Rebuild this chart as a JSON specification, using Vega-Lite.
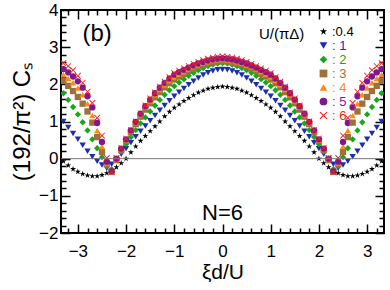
{
  "$schema": "https://vega.github.io/schema/vega-lite/v6.json",
  "width": 323,
  "height": 223,
  "autosize": "none",
  "padding": {"left": 61, "top": 10, "right": 6, "bottom": 57},
  "config": {
    "view": {"stroke": "black", "strokeWidth": 2},
    "font": "Liberation Sans",
    "axis": {"grid": false, "domain": false, "tickColor": "black", "tickWidth": 1.5, "labelColor": "black", "labelFont": "Liberation Sans", "titleFont": "Liberation Sans", "titleFontWeight": "normal", "titleColor": "black"}
  },
  "resolve": {"axis": {"x": "independent", "y": "independent"}},
  "layer": [
    {
      "data": {
        "values": [
          {"x": -3.4, "s04": 0.04, "s1": 1.17, "s2": 1.93, "s3": 2.20, "s4": 2.34, "s5": 2.48, "s6": 2.64},
          {"x": -3.3, "s04": -0.07, "s1": 1.00, "s2": 1.76, "s3": 2.09, "s4": 2.26, "s5": 2.41, "s6": 2.57},
          {"x": -3.2, "s04": -0.18, "s1": 0.84, "s2": 1.58, "s3": 1.96, "s4": 2.16, "s5": 2.32, "s6": 2.49},
          {"x": -3.1, "s04": -0.28, "s1": 0.68, "s2": 1.39, "s3": 1.82, "s4": 2.04, "s5": 2.21, "s6": 2.38},
          {"x": -3.0, "s04": -0.35, "s1": 0.52, "s2": 1.19, "s3": 1.66, "s4": 1.90, "s5": 2.08, "s6": 2.23},
          {"x": -2.9, "s04": -0.41, "s1": 0.36, "s2": 0.98, "s3": 1.48, "s4": 1.72, "s5": 1.91, "s6": 2.04},
          {"x": -2.8, "s04": -0.45, "s1": 0.20, "s2": 0.76, "s3": 1.27, "s4": 1.48, "s5": 1.68, "s6": 1.80},
          {"x": -2.7, "s04": -0.47, "s1": 0.05, "s2": 0.52, "s3": 0.97, "s4": 1.16, "s5": 1.38, "s6": 1.50},
          {"x": -2.6, "s04": -0.47, "s1": -0.07, "s2": 0.28, "s3": 0.58, "s4": 0.76, "s5": 0.96, "s6": 1.10},
          {"x": -2.5, "s04": -0.44, "s1": -0.17, "s2": 0.04, "s3": 0.18, "s4": 0.33, "s5": 0.45, "s6": 0.62},
          {"x": -2.4, "s04": -0.39, "s1": -0.26, "s2": -0.20, "s3": -0.15, "s4": -0.12, "s5": -0.08, "s6": 0.02},
          {"x": -2.3, "s04": -0.32, "s1": -0.15, "s2": -0.28, "s3": -0.35, "s4": -0.35, "s5": -0.34, "s6": -0.36},
          {"x": -2.2, "s04": -0.23, "s1": -0.02, "s2": -0.02, "s3": -0.04, "s4": -0.02, "s5": 0.00, "s6": 0.02},
          {"x": -2.1, "s04": -0.12, "s1": 0.12, "s2": 0.19, "s3": 0.23, "s4": 0.25, "s5": 0.27, "s6": 0.29},
          {"x": -2.0, "s04": 0.00, "s1": 0.27, "s2": 0.39, "s3": 0.48, "s4": 0.50, "s5": 0.52, "s6": 0.54},
          {"x": -1.9, "s04": 0.17, "s1": 0.43, "s2": 0.58, "s3": 0.71, "s4": 0.74, "s5": 0.76, "s6": 0.77},
          {"x": -1.8, "s04": 0.33, "s1": 0.59, "s2": 0.77, "s3": 0.93, "s4": 0.97, "s5": 0.99, "s6": 1.00},
          {"x": -1.7, "s04": 0.48, "s1": 0.74, "s2": 0.95, "s3": 1.13, "s4": 1.18, "s5": 1.21, "s6": 1.22},
          {"x": -1.6, "s04": 0.61, "s1": 0.88, "s2": 1.11, "s3": 1.32, "s4": 1.38, "s5": 1.41, "s6": 1.43},
          {"x": -1.5, "s04": 0.74, "s1": 1.02, "s2": 1.27, "s3": 1.49, "s4": 1.56, "s5": 1.59, "s6": 1.62},
          {"x": -1.4, "s04": 0.87, "s1": 1.16, "s2": 1.43, "s3": 1.65, "s4": 1.72, "s5": 1.76, "s6": 1.78},
          {"x": -1.3, "s04": 1.00, "s1": 1.30, "s2": 1.58, "s3": 1.79, "s4": 1.86, "s5": 1.91, "s6": 1.94},
          {"x": -1.2, "s04": 1.14, "s1": 1.43, "s2": 1.72, "s3": 1.92, "s4": 1.99, "s5": 2.04, "s6": 2.07},
          {"x": -1.1, "s04": 1.26, "s1": 1.56, "s2": 1.84, "s3": 2.03, "s4": 2.10, "s5": 2.16, "s6": 2.19},
          {"x": -1.0, "s04": 1.37, "s1": 1.68, "s2": 1.95, "s3": 2.13, "s4": 2.20, "s5": 2.26, "s6": 2.30},
          {"x": -0.9, "s04": 1.46, "s1": 1.79, "s2": 2.05, "s3": 2.21, "s4": 2.27, "s5": 2.33, "s6": 2.37},
          {"x": -0.8, "s04": 1.55, "s1": 1.89, "s2": 2.14, "s3": 2.28, "s4": 2.34, "s5": 2.39, "s6": 2.43},
          {"x": -0.7, "s04": 1.63, "s1": 1.99, "s2": 2.23, "s3": 2.36, "s4": 2.41, "s5": 2.45, "s6": 2.49},
          {"x": -0.6, "s04": 1.71, "s1": 2.08, "s2": 2.31, "s3": 2.42, "s4": 2.47, "s5": 2.51, "s6": 2.55},
          {"x": -0.5, "s04": 1.78, "s1": 2.17, "s2": 2.38, "s3": 2.48, "s4": 2.52, "s5": 2.56, "s6": 2.60},
          {"x": -0.4, "s04": 1.83, "s1": 2.25, "s2": 2.44, "s3": 2.53, "s4": 2.57, "s5": 2.60, "s6": 2.65},
          {"x": -0.3, "s04": 1.88, "s1": 2.31, "s2": 2.49, "s3": 2.57, "s4": 2.61, "s5": 2.64, "s6": 2.69},
          {"x": -0.2, "s04": 1.91, "s1": 2.36, "s2": 2.53, "s3": 2.60, "s4": 2.64, "s5": 2.67, "s6": 2.72},
          {"x": -0.1, "s04": 1.93, "s1": 2.39, "s2": 2.56, "s3": 2.62, "s4": 2.66, "s5": 2.69, "s6": 2.74},
          {"x": 0.0, "s04": 1.94, "s1": 2.40, "s2": 2.57, "s3": 2.63, "s4": 2.67, "s5": 2.70, "s6": 2.75},
          {"x": 0.1, "s04": 1.93, "s1": 2.39, "s2": 2.56, "s3": 2.62, "s4": 2.66, "s5": 2.69, "s6": 2.74},
          {"x": 0.2, "s04": 1.91, "s1": 2.36, "s2": 2.53, "s3": 2.60, "s4": 2.64, "s5": 2.67, "s6": 2.72},
          {"x": 0.3, "s04": 1.88, "s1": 2.31, "s2": 2.49, "s3": 2.57, "s4": 2.61, "s5": 2.64, "s6": 2.69},
          {"x": 0.4, "s04": 1.83, "s1": 2.25, "s2": 2.44, "s3": 2.53, "s4": 2.57, "s5": 2.60, "s6": 2.65},
          {"x": 0.5, "s04": 1.78, "s1": 2.17, "s2": 2.38, "s3": 2.48, "s4": 2.52, "s5": 2.56, "s6": 2.60},
          {"x": 0.6, "s04": 1.71, "s1": 2.08, "s2": 2.31, "s3": 2.42, "s4": 2.47, "s5": 2.51, "s6": 2.55},
          {"x": 0.7, "s04": 1.63, "s1": 1.99, "s2": 2.23, "s3": 2.36, "s4": 2.41, "s5": 2.45, "s6": 2.49},
          {"x": 0.8, "s04": 1.55, "s1": 1.89, "s2": 2.14, "s3": 2.28, "s4": 2.34, "s5": 2.39, "s6": 2.43},
          {"x": 0.9, "s04": 1.46, "s1": 1.79, "s2": 2.05, "s3": 2.21, "s4": 2.27, "s5": 2.33, "s6": 2.37},
          {"x": 1.0, "s04": 1.37, "s1": 1.68, "s2": 1.95, "s3": 2.13, "s4": 2.20, "s5": 2.26, "s6": 2.30},
          {"x": 1.1, "s04": 1.26, "s1": 1.56, "s2": 1.84, "s3": 2.03, "s4": 2.10, "s5": 2.16, "s6": 2.19},
          {"x": 1.2, "s04": 1.14, "s1": 1.43, "s2": 1.72, "s3": 1.92, "s4": 1.99, "s5": 2.04, "s6": 2.07},
          {"x": 1.3, "s04": 1.00, "s1": 1.30, "s2": 1.58, "s3": 1.79, "s4": 1.86, "s5": 1.91, "s6": 1.94},
          {"x": 1.4, "s04": 0.87, "s1": 1.16, "s2": 1.43, "s3": 1.65, "s4": 1.72, "s5": 1.76, "s6": 1.78},
          {"x": 1.5, "s04": 0.74, "s1": 1.02, "s2": 1.27, "s3": 1.49, "s4": 1.56, "s5": 1.59, "s6": 1.62},
          {"x": 1.6, "s04": 0.61, "s1": 0.88, "s2": 1.11, "s3": 1.32, "s4": 1.38, "s5": 1.41, "s6": 1.43},
          {"x": 1.7, "s04": 0.48, "s1": 0.74, "s2": 0.95, "s3": 1.13, "s4": 1.18, "s5": 1.21, "s6": 1.22},
          {"x": 1.8, "s04": 0.33, "s1": 0.59, "s2": 0.77, "s3": 0.93, "s4": 0.97, "s5": 0.99, "s6": 1.00},
          {"x": 1.9, "s04": 0.17, "s1": 0.43, "s2": 0.58, "s3": 0.71, "s4": 0.74, "s5": 0.76, "s6": 0.77},
          {"x": 2.0, "s04": 0.00, "s1": 0.27, "s2": 0.39, "s3": 0.48, "s4": 0.50, "s5": 0.52, "s6": 0.54},
          {"x": 2.1, "s04": -0.12, "s1": 0.12, "s2": 0.19, "s3": 0.23, "s4": 0.25, "s5": 0.27, "s6": 0.29},
          {"x": 2.2, "s04": -0.23, "s1": -0.02, "s2": -0.02, "s3": -0.04, "s4": -0.02, "s5": 0.00, "s6": 0.02},
          {"x": 2.3, "s04": -0.32, "s1": -0.15, "s2": -0.28, "s3": -0.35, "s4": -0.35, "s5": -0.34, "s6": -0.36},
          {"x": 2.4, "s04": -0.39, "s1": -0.26, "s2": -0.20, "s3": -0.15, "s4": -0.12, "s5": -0.08, "s6": 0.02},
          {"x": 2.5, "s04": -0.44, "s1": -0.17, "s2": 0.04, "s3": 0.18, "s4": 0.33, "s5": 0.45, "s6": 0.62},
          {"x": 2.6, "s04": -0.47, "s1": -0.07, "s2": 0.28, "s3": 0.58, "s4": 0.76, "s5": 0.96, "s6": 1.10},
          {"x": 2.7, "s04": -0.47, "s1": 0.05, "s2": 0.52, "s3": 0.97, "s4": 1.16, "s5": 1.38, "s6": 1.50},
          {"x": 2.8, "s04": -0.45, "s1": 0.20, "s2": 0.76, "s3": 1.27, "s4": 1.48, "s5": 1.68, "s6": 1.80},
          {"x": 2.9, "s04": -0.41, "s1": 0.36, "s2": 0.98, "s3": 1.48, "s4": 1.72, "s5": 1.91, "s6": 2.04},
          {"x": 3.0, "s04": -0.35, "s1": 0.52, "s2": 1.19, "s3": 1.66, "s4": 1.90, "s5": 2.08, "s6": 2.23},
          {"x": 3.1, "s04": -0.28, "s1": 0.68, "s2": 1.39, "s3": 1.82, "s4": 2.04, "s5": 2.21, "s6": 2.38},
          {"x": 3.2, "s04": -0.18, "s1": 0.84, "s2": 1.58, "s3": 1.96, "s4": 2.16, "s5": 2.32, "s6": 2.49},
          {"x": 3.3, "s04": -0.07, "s1": 1.00, "s2": 1.76, "s3": 2.09, "s4": 2.26, "s5": 2.41, "s6": 2.57},
          {"x": 3.4, "s04": 0.04, "s1": 1.17, "s2": 1.93, "s3": 2.20, "s4": 2.34, "s5": 2.48, "s6": 2.64}
        ]
      },
      "transform": [{"fold": ["s04", "s1", "s2", "s3", "s4", "s5", "s6"], "as": ["series", "value"]}],
      "mark": {"type": "point", "filled": true, "size": 40, "opacity": 1, "clip": true},
      "encoding": {
        "x": {"field": "x", "type": "quantitative", "scale": {"domain": [-3.35, 3.35], "nice": false, "zero": false},
          "axis": {"orient": "bottom", "values": [-3, -2, -1, 0, 1, 2, 3], "tickSize": -9, "labelPadding": 19, "labelFontSize": 17, "format": "d", "title": "ξd/U", "titleFontSize": 21, "titlePadding": 2}},
        "y": {"field": "value", "type": "quantitative", "scale": {"domain": [-2, 4], "nice": false, "zero": false},
          "axis": {"orient": "left", "values": [-2, -1, 0, 1, 2, 3, 4], "tickSize": -9, "labelPadding": 12, "labelFontSize": 17, "format": "d", "title": "(192/π²)  Cₛ", "titleFontSize": 24, "titlePadding": 4}},
        "color": {"field": "series", "type": "nominal",
          "scale": {"domain": ["s04", "s1", "s2", "s3", "s4", "s5", "s6"], "range": ["#000000", "#1c2db0", "#17a817", "#a0703c", "#ff8a10", "#7d1890", "#ff1a1a"]},
          "legend": {"orient": "none", "legendX": 198, "legendY": 15, "title": ["", "U/(πΔ)"], "titleLineHeight": 2, "titleOrient": "left", "titleAnchor": "start", "titleFont": "Liberation Sans", "titleFontSize": 15, "titleFontWeight": "normal", "titleColor": "black", "titlePadding": 12, "labelFontSize": 13, "labelFont": "Liberation Sans", "symbolSize": 60, "symbolStrokeWidth": 0, "rowPadding": -1.5, "labelOffset": 2, "padding": 0,
            "labelColor": {"expr": "scale('color', datum.value)"},
            "labelExpr": "datum.label == 's04' ? ':0.4' : ': ' + slice(datum.label, 1)"}},
        "shape": {"field": "series", "type": "nominal",
          "scale": {"domain": ["s04", "s1", "s2", "s3", "s4", "s5", "s6"], "range": ["M0,-1L0.225,-0.309L0.951,-0.309L0.363,0.118L0.588,0.809L0,0.382L-0.588,0.809L-0.363,0.118L-0.951,-0.309L-0.225,-0.309Z", "triangle-down", "diamond", "square", "triangle-up", "circle", "M-1,-0.8L-0.8,-1L0,-0.2L0.8,-1L1,-0.8L0.2,0L1,0.8L0.8,1L0,0.2L-0.8,1L-1,0.8L-0.2,0Z"]}}
      }
    },
    {
      "data": {"values": [{}]},
      "mark": {"type": "rule", "color": "#777777", "strokeWidth": 1},
      "encoding": {
        "x": {"datum": -3.35, "type": "quantitative", "scale": {"domain": [-3.35, 3.35], "nice": false, "zero": false},
          "axis": {"orient": "top", "values": [-3.2, -2.8, -2.6, -2.4, -2.2, -1.8, -1.6, -1.4, -1.2, -0.8, -0.6, -0.4, -0.2, 0.2, 0.4, 0.6, 0.8, 1.2, 1.4, 1.6, 1.8, 2.2, 2.4, 2.6, 2.8, 3.2], "tickSize": -5, "labels": false, "title": null}},
        "x2": {"datum": 3.35},
        "y": {"datum": 0, "type": "quantitative", "scale": {"domain": [-2, 4], "nice": false, "zero": false},
          "axis": {"orient": "left", "values": [-1.8, -1.6, -1.4, -1.2, -0.8, -0.6, -0.4, -0.2, 0.2, 0.4, 0.6, 0.8, 1.2, 1.4, 1.6, 1.8, 2.2, 2.4, 2.6, 2.8, 3.2, 3.4, 3.6, 3.8], "tickSize": -5, "labels": false, "title": null}}
      }
    },
    {
      "data": {"values": [{}]},
      "mark": {"type": "text", "text": "(b)", "fontSize": 24, "font": "Liberation Sans", "fontWeight": "normal", "fill": "black"},
      "encoding": {
        "x": {"datum": -2.6, "type": "quantitative", "scale": {"domain": [-3.35, 3.35], "nice": false, "zero": false},
          "axis": {"orient": "bottom", "values": [-3.2, -2.8, -2.6, -2.4, -2.2, -1.8, -1.6, -1.4, -1.2, -0.8, -0.6, -0.4, -0.2, 0.2, 0.4, 0.6, 0.8, 1.2, 1.4, 1.6, 1.8, 2.2, 2.4, 2.6, 2.8, 3.2], "tickSize": -5, "labels": false, "title": null}},
        "y": {"datum": 3.35, "type": "quantitative", "scale": {"domain": [-2, 4], "nice": false, "zero": false},
          "axis": {"orient": "right", "values": [-2, -1, 0, 1, 2, 3, 4], "tickSize": -9, "labels": false, "title": null}}
      }
    },
    {
      "data": {"values": [{}]},
      "mark": {"type": "text", "text": "N=6", "fontSize": 22, "font": "Liberation Sans", "fontWeight": "normal", "fill": "black"},
      "encoding": {
        "x": {"datum": 0, "type": "quantitative", "scale": {"domain": [-3.35, 3.35], "nice": false, "zero": false},
          "axis": {"orient": "top", "values": [-3, -2, -1, 0, 1, 2, 3], "tickSize": -9, "labels": false, "title": null}},
        "y": {"datum": -1.45, "type": "quantitative", "scale": {"domain": [-2, 4], "nice": false, "zero": false},
          "axis": {"orient": "right", "values": [-1.8, -1.6, -1.4, -1.2, -0.8, -0.6, -0.4, -0.2, 0.2, 0.4, 0.6, 0.8, 1.2, 1.4, 1.6, 1.8, 2.2, 2.4, 2.6, 2.8, 3.2, 3.4, 3.6, 3.8], "tickSize": -5, "labels": false, "title": null}}
      }
    }
  ]
}
